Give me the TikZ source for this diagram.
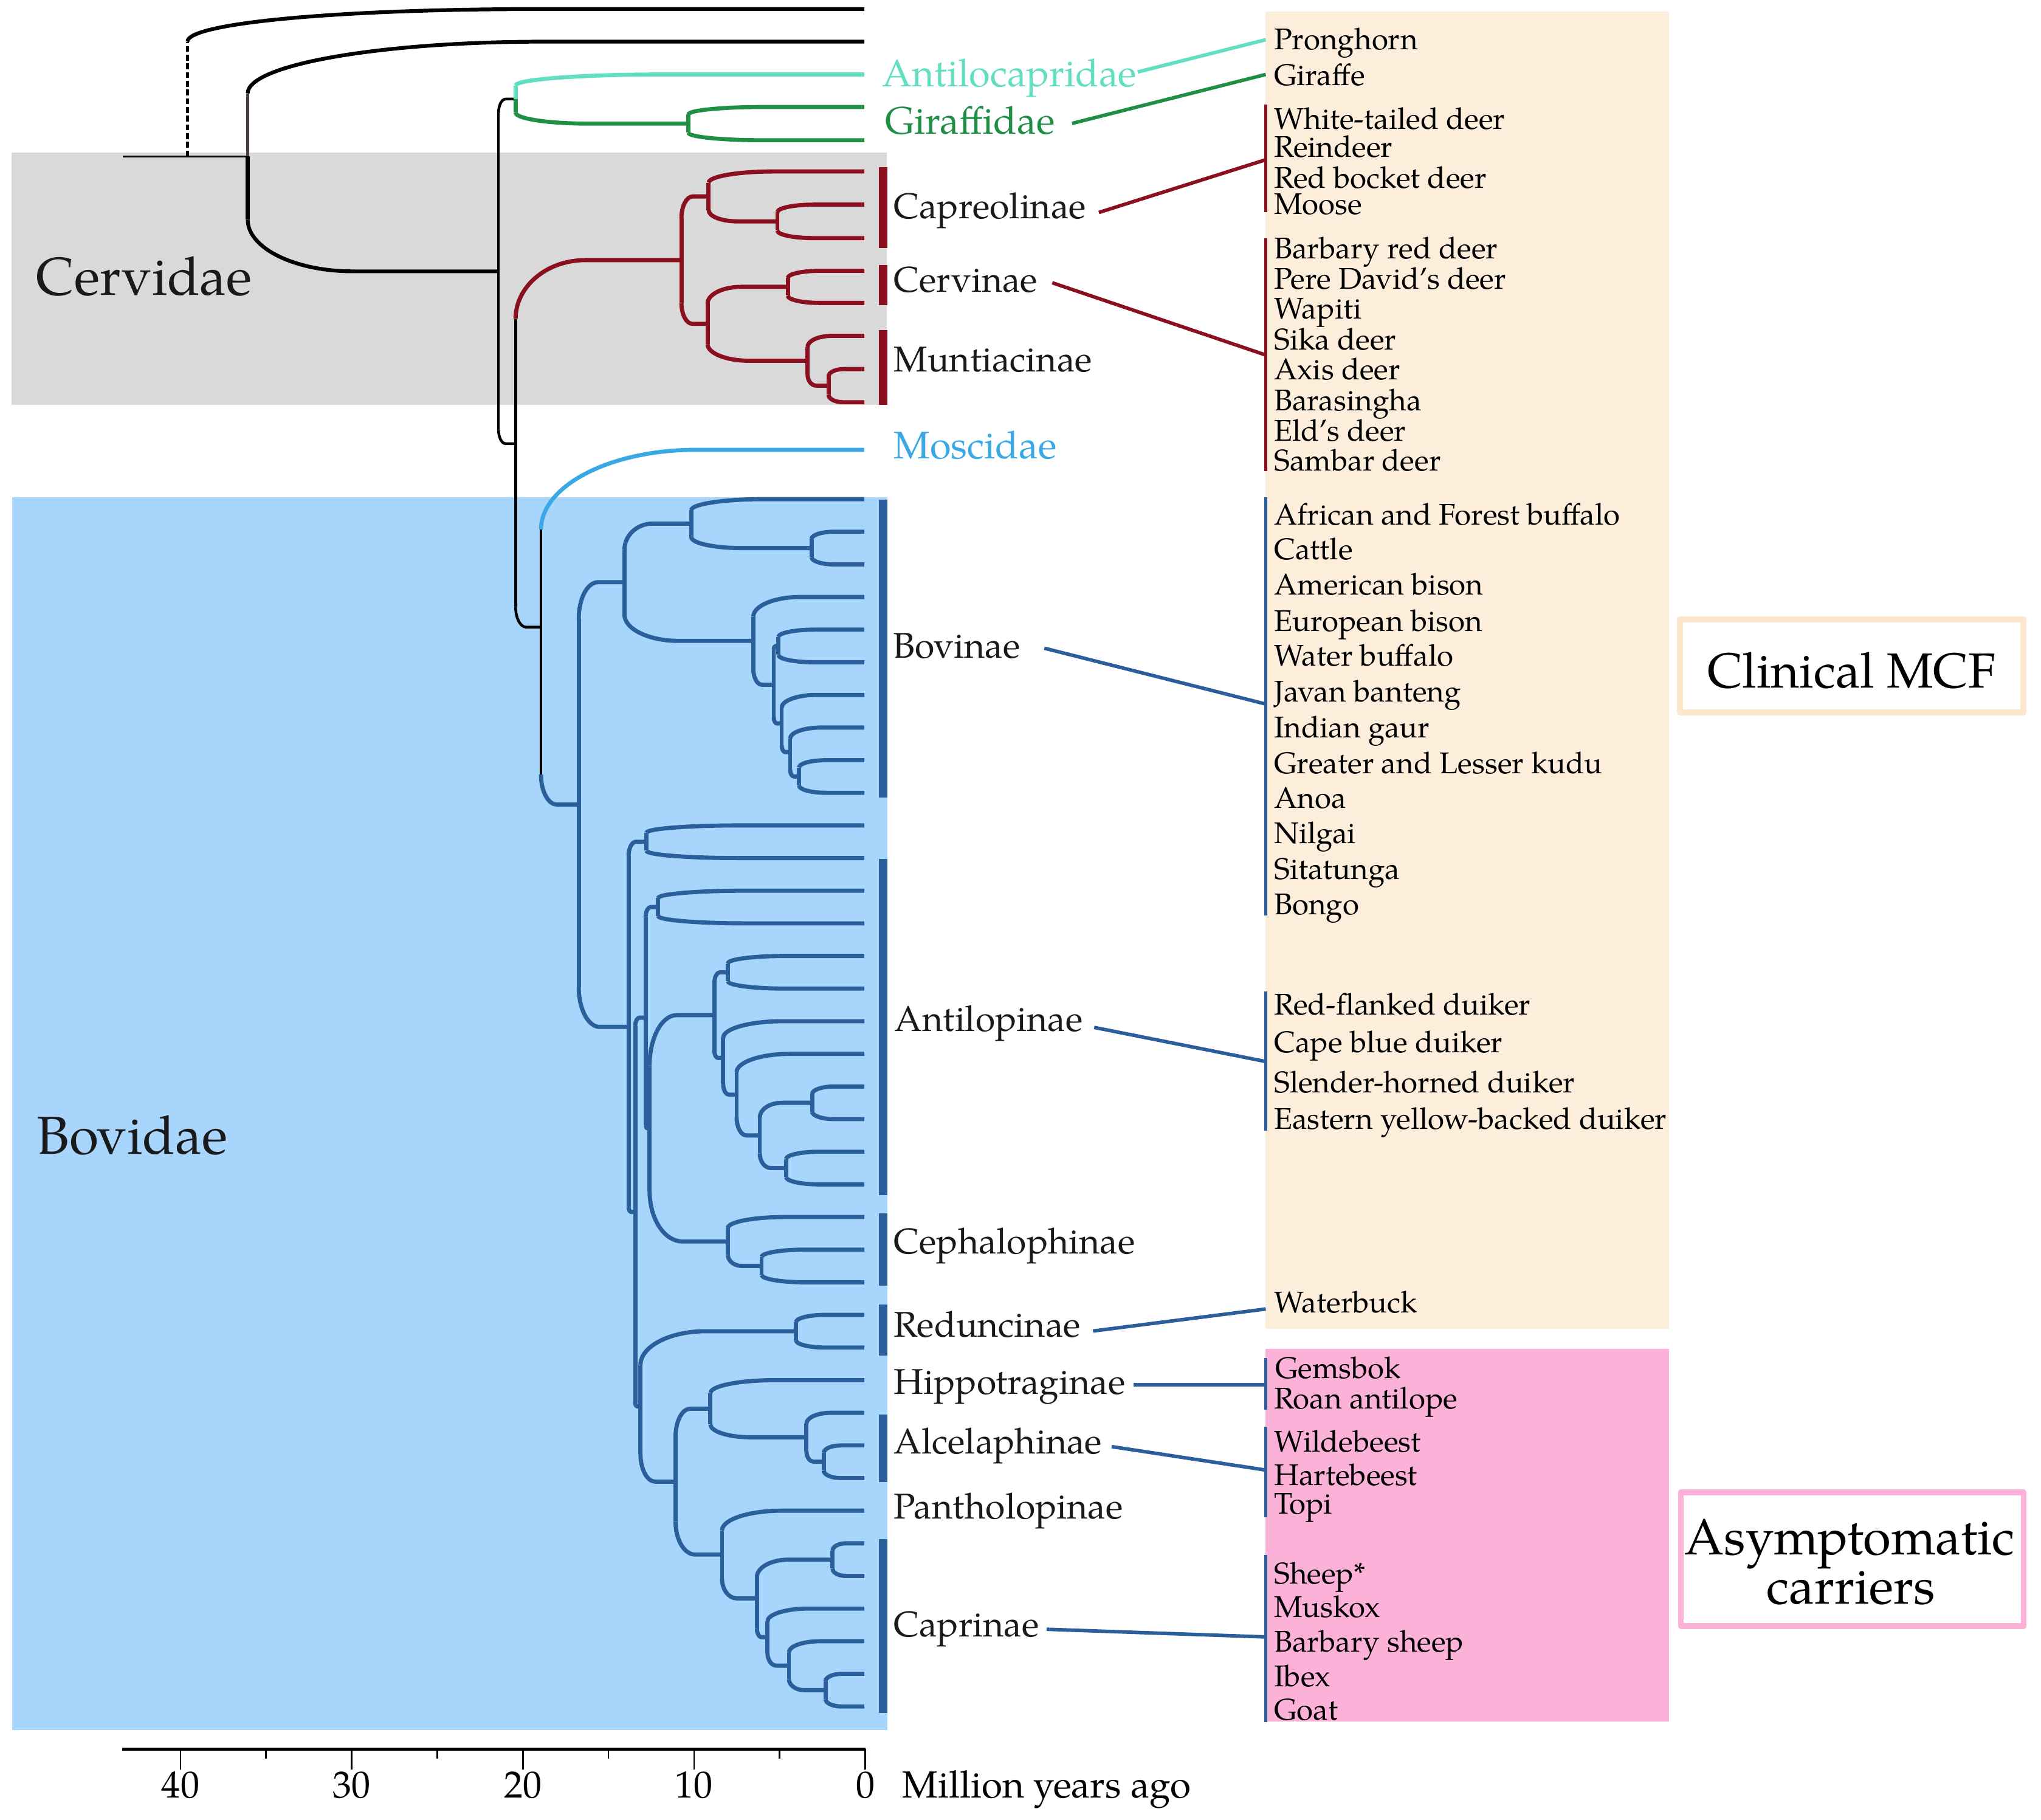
\documentclass[tikz,border=0pt]{standalone}
\usepackage{fontspec}
\setmainfont{TeX Gyre Pagella}
\usetikzlibrary{calc}
\definecolor{cerv}{HTML}{8A0F1F}
\definecolor{bov}{HTML}{2A5F9C}
\definecolor{mosc}{HTML}{3AA8E4}
\definecolor{antc}{HTML}{62DFC0}
\definecolor{giraf}{HTML}{1F8F45}
\definecolor{graybox}{HTML}{D9D9D9}
\definecolor{bluebox}{HTML}{A7D5FC}
\definecolor{peach}{HTML}{FDEEDC}
\definecolor{pinkbox}{HTML}{FCB1D8}
\definecolor{peachedge}{HTML}{FCE6CC}
\definecolor{labtxt}{HTML}{1A1A1A}
\definecolor{brownk}{HTML}{4A3F3F}
\def\fvv{0.45}\def\fhh{0.42}\def\fcap{0.8}
\newcommand\BrC[4]{%
  \draw[#1] let \p1=(#3),\p2=(#4),
      \n1={min(\fvv,\fcap*(\x2-\x1)/abs(\y2-\y1))}
    in (\x1,\y1) -- (\x1,{\y2+\n1*(\y1-\y2)});
  \draw[#2] let \p1=(#3),\p2=(#4),
      \n1={min(\fvv,\fcap*(\x2-\x1)/abs(\y2-\y1))}
    in (\x1,{\y2+\n1*(\y1-\y2)})
      .. controls (\x1,{\y2+0.448*\n1*(\y1-\y2)})
         and ({\x1+0.448*\fhh*(\x2-\x1)},\y2)
      .. ({\x1+\fhh*(\x2-\x1)},\y2) -- (\x2,\y2);
}
\newcommand\Br[3]{\BrC{#1}{#1}{#2}{#3}}
\newcommand\Kids[4]{\Br{#1}{#2}{#3}\Br{#1}{#2}{#4}}
\newcommand\Nd[4]{\path let \p1=(#3),\p2=(#4) in coordinate (#1) at ({#2*1pt},{0.5*(\y1+\y2)});}
\tikzset{
  rb/.style={line width=3.2pt,cerv},
  bb/.style={line width=3.2pt,bov},
  gb/.style={line width=3.1pt,giraf},
  cb/.style={line width=3.1pt,antc},
  mb/.style={line width=3.1pt,mosc},
  kb/.style={line width=2.9pt,black},
  kbr/.style={line width=2.3pt,brownk},
  tb/.style={line width=2.1pt,black},
  cladebar/.style={line width=6.4pt},
  listbar/.style={line width=2.5pt},
  conn/.style={line width=2.7pt},
  sp/.style={anchor=base west,inner sep=0pt,font=\fontsize{23}{23}\selectfont},
  sub/.style={anchor=base west,inner sep=0pt,text=labtxt,font=\fontsize{27.5}{27.5}\selectfont},
  fam/.style={anchor=base west,inner sep=0pt,font=\fontsize{29.5}{29.5}\selectfont},
  big/.style={anchor=base west,inner sep=0pt,text=labtxt,font=\fontsize{41}{41}\selectfont},
  axl/.style={anchor=base,inner sep=0pt,font=\fontsize{29}{29}\selectfont},
  boxtxt/.style={anchor=base,inner sep=0pt,font=\fontsize{37.8}{37.8}\selectfont},
}
\begin{document}
\begin{tikzpicture}[x=1pt,y=-1pt,line join=round]
\useasboundingbox (0,0) rectangle (1568,1398);
\fill[white] (0,0) rectangle (1568,1398);
% backgrounds
\fill[graybox] (8.9,117.2) rectangle (681.3,311);
\fill[bluebox] (9.2,382.1) rectangle (681.6,1328.9);
\fill[peach] (972,8.9) rectangle (1282.4,1020.7);
\fill[pinkbox] (972,1036.3) rectangle (1282.4,1322.4);
\node[big] (cervlab) at (27.7,226.8) {Cervidae};
\node[big] (bovlab) at (28,886.5) {Bovidae};
% ---------- leaves ----------
\coordinate (L1) at (664,7);
\coordinate (L2) at (664,32);
\coordinate (AL) at (664,57.2);
\coordinate (g1) at (664,82.2);
\coordinate (g2) at (664,107.7);
\coordinate (r1) at (664,131.7);
\coordinate (r2) at (664,157.2);
\coordinate (r3) at (664,182.9);
\coordinate (r4) at (664,208.0);
\coordinate (r5) at (664,232.7);
\coordinate (r6) at (664,258.0);
\coordinate (r7) at (664,283.5);
\coordinate (r8) at (664,309.0);
\coordinate (Mos) at (664,345.5);
\foreach \i in {0,...,37}{\coordinate (v\i) at (664,{383.4+25.065*\i});}
% ---------- nodes ----------
\Nd{GN}{528.8}{g1}{g2}
\Nd{AG}{396.1}{AL}{GN}
\Nd{Rc1}{597.2}{r2}{r3}
\Nd{R1}{544.4}{r1}{Rc1}
\Nd{Rc2}{605.2}{r4}{r5}
\Nd{Rc3}{636.5}{r7}{r8}
\Nd{R3}{620.4}{r6}{Rc3}
\Nd{R2}{543.6}{Rc2}{R3}
\Nd{R0}{523.5}{R1}{R2}
\Nd{bc1}{623.4}{v1}{v2}
\Nd{Bv1}{531.1}{v0}{bc1}
\Nd{bc2}{598}{v4}{v5}
\Nd{bc3}{613.8}{v8}{v9}
\Nd{X3}{607}{v7}{bc3}
\Nd{X2}{600.5}{v6}{X3}
\Nd{X1}{594.4}{bc2}{X2}
\Nd{Bv2}{578.7}{v3}{X1}
\Nd{Bov}{479.7}{Bv1}{Bv2}
\Nd{ac0}{496.6}{v10}{v11}
\Nd{a1}{505.6}{v12}{v13}
\Nd{h1}{559.2}{v14}{v15}
\Nd{hc4a}{624}{v18}{v19}
\Nd{hc4b}{603.9}{v20}{v21}
\Nd{H4}{583.7}{hc4a}{hc4b}
\Nd{H3}{565.9}{v17}{H4}
\Nd{H2}{555.6}{v16}{H3}
\Nd{H}{548.8}{h1}{H2}
\Nd{cc}{585.1}{v23}{v24}
\Nd{Ceph}{559.2}{v22}{cc}
\Nd{Fp}{499}{H}{Ceph}
\Nd{F}{496}{a1}{Fp}
\Nd{rc}{611.5}{v25}{v26}
\Nd{alc}{632.9}{v29}{v30}
\Nd{Al}{619.5}{v28}{alc}
\Nd{J}{545.8}{v27}{Al}
\Nd{cp1}{639.6}{v32}{v33}
\Nd{cp3c}{634.2}{v36}{v37}
\Nd{Cp3}{606.1}{v35}{cp3c}
\Nd{Cp2}{589.6}{v34}{Cp3}
\Nd{Cap}{581.5}{cp1}{Cp2}
\Nd{K}{554.7}{v31}{Cap}
\Nd{I}{519}{J}{K}
\Nd{G}{492}{rc}{I}
\Nd{E}{488}{F}{G}
\Nd{D}{482.9}{ac0}{E}
\Nd{BovR}{444.6}{Bov}{D}
\Nd{C}{415.6}{Mos}{BovR}
\Nd{B}{396.1}{R0}{C}
\Nd{A}{383}{AG}{B}
\Nd{T2}{190.3}{L2}{A}
\coordinate (S) at ($(T2)+(-95.8,0)$);
\coordinate (T1) at ($(T2)+(-46.3,0)$);
\coordinate (T1a) at (144,32);
\coordinate (T1b) at (410,7);
% ---------- branches ----------
\draw[line width=1.2pt] (S) -- (T2);
\draw[line width=2.1pt,dash pattern=on 4.5pt off 2.2pt] (T1) -- (T1a);
\draw[kb] (T1a) .. controls (144,17.5) and (263,7) .. (T1b) -- (L1);
{\def\fhh{0.48}\BrC{kbr}{kb}{T2}{L2}}
\Br{kb}{T2}{A}
\Br{tb}{A}{AG}
\Br{tb}{A}{B}
\Br{cb}{AG}{AL}
\Br{gb}{AG}{GN}
\Kids{gb}{GN}{g1}{g2}
{\def\fvv{0.32}\BrC{tb}{rb}{B}{R0}}
\Br{tb}{B}{C}
{\def\fhh{0.48}\BrC{tb}{mb}{C}{Mos}}
\BrC{tb}{bb}{C}{BovR}
% Cervidae
\Kids{rb}{R0}{R1}{R2}
\Kids{rb}{R1}{r1}{Rc1}
\Kids{rb}{Rc1}{r2}{r3}
\Kids{rb}{R2}{Rc2}{R3}
\Kids{rb}{Rc2}{r4}{r5}
\Kids{rb}{R3}{r6}{Rc3}
\Kids{rb}{Rc3}{r7}{r8}
% Bovidae
\Kids{bb}{BovR}{Bov}{D}
\Kids{bb}{Bov}{Bv1}{Bv2}
\Kids{bb}{Bv1}{v0}{bc1}
\Kids{bb}{bc1}{v1}{v2}
\Kids{bb}{Bv2}{v3}{X1}
\Kids{bb}{X1}{bc2}{X2}
\Kids{bb}{bc2}{v4}{v5}
\Kids{bb}{X2}{v6}{X3}
\Kids{bb}{X3}{v7}{bc3}
\Kids{bb}{bc3}{v8}{v9}
\Kids{bb}{D}{ac0}{E}
\Kids{bb}{ac0}{v10}{v11}
\Kids{bb}{E}{F}{G}
\Kids{bb}{F}{a1}{Fp}
\Kids{bb}{a1}{v12}{v13}
\Kids{bb}{Fp}{H}{Ceph}
\Kids{bb}{H}{h1}{H2}
\Kids{bb}{h1}{v14}{v15}
\Kids{bb}{H2}{v16}{H3}
\Kids{bb}{H3}{v17}{H4}
\Kids{bb}{H4}{hc4a}{hc4b}
\Kids{bb}{hc4a}{v18}{v19}
\Kids{bb}{hc4b}{v20}{v21}
\Kids{bb}{Ceph}{v22}{cc}
\Kids{bb}{cc}{v23}{v24}
\Kids{bb}{G}{rc}{I}
\Kids{bb}{rc}{v25}{v26}
\Kids{bb}{I}{J}{K}
\Kids{bb}{J}{v27}{Al}
\Kids{bb}{Al}{v28}{alc}
\Kids{bb}{alc}{v29}{v30}
\Kids{bb}{K}{v31}{Cap}
\Kids{bb}{Cap}{cp1}{Cp2}
\Kids{bb}{cp1}{v32}{v33}
\Kids{bb}{Cp2}{v34}{Cp3}
\Kids{bb}{Cp3}{v35}{cp3c}
\Kids{bb}{cp3c}{v36}{v37}
% ---------- clade bars ----------
\draw[cladebar,cerv] (678.6,128.6) -- (678.6,190.6);
\draw[cladebar,cerv] (678.6,203.7) -- (678.6,234.6);
\draw[cladebar,cerv] (678.6,253.7) -- (678.6,310.9);
\draw[cladebar,bov] (678.4,383.6) -- (678.4,612.7);
\draw[cladebar,bov] (678.4,659.9) -- (678.4,917.9);
\draw[cladebar,bov] (678.4,932.1) -- (678.4,987.6);
\draw[cladebar,bov] (678.4,1002.2) -- (678.4,1041.5);
\draw[cladebar,bov] (678.4,1086.5) -- (678.4,1138.5);
\draw[cladebar,bov] (678.4,1182.1) -- (678.4,1315.6);
% ---------- tree labels ----------
\node[fam,text=antc] (labAnt) at (677.6,66.7) {Antilocapridae};
\node[fam,text=giraf] (labGir) at (679.8,102.9) {Giraffidae};
\node[fam,text=mosc] (labMos) at (686.5,352.5) {Moscidae};
\node[sub] (labCap) at (686.5,168) {Capreolinae};
\node[sub] (labCer) at (686.5,224.4) {Cervinae};
\node[sub] (labMun) at (686.5,285.4) {Muntiacinae};
\node[sub] (labBov) at (686.1,505.5) {Bovinae};
\node[sub] (labAtl) at (687,792.3) {Antilopinae};
\node[sub] (labCph) at (686.5,963.1) {Cephalophinae};
\node[sub] (labRed) at (686.5,1026.9) {Reduncinae};
\node[sub] (labHip) at (686.5,1071) {Hippotraginae};
\node[sub] (labAlc) at (686.5,1116.9) {Alcelaphinae};
\node[sub] (labPan) at (686.5,1166.6) {Pantholopinae};
\node[sub] (labCpr) at (686.5,1257.4) {Caprinae};
% ---------- list bars ----------
\draw[listbar,cerv] (972.4,80.5) -- (972.4,163);
\draw[listbar,cerv] (972.4,183) -- (972.4,362);
\draw[listbar,bov] (972.4,382) -- (972.4,703);
\draw[listbar,bov] (972.4,761.8) -- (972.4,868.6);
\draw[listbar,bov] (972.4,1043) -- (972.4,1083);
\draw[listbar,bov] (972.4,1096) -- (972.4,1165.3);
\draw[listbar,bov] (972.4,1194.3) -- (972.4,1323);
% ---------- connectors ----------
\coordinate (kAnt1) at (874,55.3);   \coordinate (kAnt2) at (972.4,30.5);
\coordinate (kGir1) at (823.6,94.8); \coordinate (kGir2) at (972.4,57.2);
\coordinate (kCap1) at (844.2,163.2); \coordinate (kCap2) at (972.4,122.7);
\coordinate (kCer1) at (808.4,217.2); \coordinate (kCer2) at (972.4,272.7);
\coordinate (kBov1) at (802.3,497.9); \coordinate (kBov2) at (972.4,540.8);
\coordinate (kAtl1) at (840.6,789.2); \coordinate (kAtl2) at (972.4,815.4);
\coordinate (kRed1) at (839.7,1022.4); \coordinate (kRed2) at (972.4,1005.5);
\coordinate (kHip1) at (871,1063.5); \coordinate (kHip2) at (972.4,1063.5);
\coordinate (kAlc1) at (854,1111.2); \coordinate (kAlc2) at (972.4,1129.2);
\coordinate (kCpr1) at (804,1251.5); \coordinate (kCpr2) at (972.4,1257.4);
\draw[conn,antc] (kAnt1) -- (kAnt2);
\draw[conn,giraf] (kGir1) -- (kGir2);
\draw[conn,cerv] (kCap1) -- (kCap2);
\draw[conn,cerv] (kCer1) -- (kCer2);
\draw[conn,bov] (kBov1) -- (kBov2);
\draw[conn,bov] (kAtl1) -- (kAtl2);
\draw[conn,bov] (kRed1) -- (kRed2);
\draw[conn,bov] (kHip1) -- (kHip2);
\draw[conn,bov] (kAlc1) -- (kAlc2);
\draw[conn,bov] (kCpr1) -- (kCpr2);
% ---------- species ----------
\node[sp] (s01) at (978.6,38) {Pronghorn};
\node[sp] (s02) at (978.6,65.7) {Giraffe};
\node[sp] (s03) at (978.6,99) {White-tailed deer};
\node[sp] (s04) at (978.6,120.6) {Reindeer};
\node[sp] (s05) at (978.6,144.3) {Red bocket deer};
\node[sp] (s06) at (978.6,164.4) {Moose};
\node[sp] (s07) at (978.6,198.8) {Barbary red deer};
\node[sp] (s08) at (978.6,222) {Pere David’s deer};
\node[sp] (s09) at (978.6,245) {Wapiti};
\node[sp] (s10) at (978.6,268.5) {Sika deer};
\node[sp] (s11) at (978.6,291.7) {Axis deer};
\node[sp] (s12) at (978.6,315.4) {Barasingha};
\node[sp] (s13) at (978.6,338.6) {Eld’s deer};
\node[sp] (s14) at (978.6,361.8) {Sambar deer};
\node[sp] (s15) at (978.6,403) {African and Forest buffalo};
\node[sp] (s16) at (978.6,430) {Cattle};
\node[sp] (s17) at (978.6,457) {American bison};
\node[sp] (s18) at (978.6,484.7) {European bison};
\node[sp] (s19) at (978.6,511.5) {Water buffalo};
\node[sp] (s20) at (978.6,539) {Javan banteng};
\node[sp] (s21) at (978.6,566.4) {Indian gaur};
\node[sp] (s22) at (978.6,594) {Greater and Lesser kudu};
\node[sp] (s23) at (978.6,621) {Anoa};
\node[sp] (s24) at (978.6,647.7) {Nilgai};
\node[sp] (s25) at (978.6,675.4) {Sitatunga};
\node[sp] (s26) at (978.6,702.7) {Bongo};
\node[sp] (s27) at (978.6,779.6) {Red-flanked duiker};
\node[sp] (s28) at (978.6,808.5) {Cape blue duiker};
\node[sp] (s29) at (978.6,839.2) {Slender-horned duiker};
\node[sp] (s30) at (978.6,867.2) {Eastern yellow-backed duiker};
\node[sp] (s31) at (978.6,1008.3) {Waterbuck};
\node[sp] (s32) at (979.5,1059) {Gemsbok};
\node[sp] (s33) at (978.6,1082.1) {Roan antilope};
\node[sp] (s34) at (978.6,1115.5) {Wildebeest};
\node[sp] (s35) at (978.6,1140.9) {Hartebeest};
\node[sp] (s36) at (978.6,1163.1) {Topi};
\node[sp] (s37) at (978.6,1216.5) {Sheep*};
\node[sp] (s38) at (978.6,1242.3) {Muskox};
\node[sp] (s39) at (978.6,1269) {Barbary sheep};
\node[sp] (s40) at (978.6,1295.7) {Ibex};
\node[sp] (s41) at (978.6,1321) {Goat};
% ---------- legend boxes ----------
\node[draw=peachedge,line width=4.6pt,fill=white,minimum width=264.1pt,minimum height=71.3pt,inner sep=0pt] (mcfbox) at (1422.55,511.45) {};
\node[boxtxt] (mcftxt) at (1422.5,528.4) {Clinical MCF};
\node[draw=pinkbox,line width=4.6pt,fill=white,minimum width=263.4pt,minimum height=102.6pt,inner sep=0pt] (acbox) at (1423,1197.6) {};
\node[boxtxt,font=\fontsize{39}{39}\selectfont] (actxt1) at (1421,1194) {Asymptomatic};
\node[boxtxt,font=\fontsize{39}{39}\selectfont] (actxt2) at (1422,1232) {carriers};
% ---------- axis ----------
\coordinate (ax0) at (93.8,1343.6);
\coordinate (ax1) at (664.7,1343.6);
\draw[line width=2.6pt] (ax0) -- (ax1);
\foreach \t in {0,10,20,30,40}{\draw[line width=1.3pt] ({664.7-13.15*\t},1343.6) -- ++(0,15.5);}
\foreach \t in {5,15,25,35}{\draw[line width=1.3pt] ({664.7-13.15*\t},1343.6) -- ++(0,7.2);}
\foreach \t in {0,10,20,30,40}{\node[axl] at ({664.7-13.15*\t},1381) {\t};}
\node[axl,anchor=base west] (myalab) at (693,1381) {Million years ago};
\end{tikzpicture}
\end{document}
